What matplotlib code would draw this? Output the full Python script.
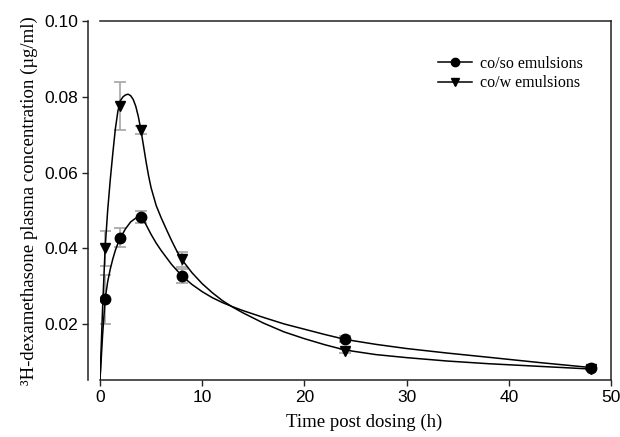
import matplotlib
matplotlib.use("Agg")
import matplotlib.pyplot as plt

# Measured points
time_pts = [0.5, 2, 4, 8, 24, 48]
coso_vals = [0.0266, 0.0428, 0.0483, 0.0328, 0.0160, 0.0085]
coso_err = [0.0065, 0.0025, 0.0016, 0.0019, 0.0008, 0.0004]
cow_vals = [0.0400, 0.0776, 0.0713, 0.0371, 0.0130, 0.0082]
cow_err = [0.0046, 0.0064, 0.0010, 0.0020, 0.0005, 0.0003]

# Fitted curves
cow_curve_t = [0, 0.25, 0.5, 0.75, 1.0, 1.25, 1.5, 1.75, 2.0, 2.25, 2.5, 2.75, 3.0,
               3.25, 3.5, 3.75, 4.0, 4.25, 4.5, 4.75, 5.0, 5.5, 6.0, 6.5, 7.0, 7.5,
               8.0, 9, 10, 11, 12, 13, 14, 16, 18, 20, 22, 24, 27, 30, 34, 38, 43, 48]
cow_curve_c = [0.0053, 0.024, 0.040, 0.050, 0.058, 0.065, 0.0715, 0.0762, 0.0790,
               0.0800, 0.0805, 0.0807, 0.0803, 0.0793, 0.0775, 0.0748, 0.0713,
               0.0672, 0.0630, 0.0592, 0.0560, 0.0513, 0.0480, 0.0450, 0.0421,
               0.0394, 0.0371, 0.0336, 0.0307, 0.0283, 0.0262, 0.0245, 0.0230,
               0.0203, 0.0180, 0.0162, 0.0146, 0.0132, 0.0120, 0.0112, 0.0103,
               0.0096, 0.0089, 0.0082]
coso_curve_t = [0, 0.25, 0.5, 0.75, 1.0, 1.25, 1.5, 1.75, 2.0, 2.5, 3.0, 3.5, 3.75,
                4.0, 4.25, 4.5, 5.0, 5.5, 6.0, 7.0, 8.0, 9, 10, 11, 12, 13, 14, 16,
                18, 20, 22, 24, 27, 30, 34, 38, 43, 48]
coso_curve_c = [0.0053, 0.017, 0.0266, 0.0312, 0.0345, 0.0372, 0.0395, 0.0413,
                0.0428, 0.0452, 0.0470, 0.0480, 0.0483, 0.0482, 0.0475, 0.0463,
                0.0437, 0.0414, 0.0394, 0.0358, 0.0328, 0.0305, 0.0286, 0.0270,
                0.0257, 0.0246, 0.0236, 0.0218, 0.0201, 0.0187, 0.0173, 0.0160,
                0.0147, 0.0136, 0.0124, 0.0113, 0.0099, 0.0086]

x_ticks = [0, 10, 20, 30, 40, 50]
y_ticks = [0.02, 0.04, 0.06, 0.08, 0.10]
y_tick_labels = ["0.02", "0.04", "0.06", "0.08", "0.10"]

fig = plt.figure(figsize=(6.2, 4.37), dpi=100)
ax = fig.add_axes([100/620, 1-380/437, 511/620, 359/437])

sans = ["Liberation Sans", "DejaVu Sans"]
serif = ["Liberation Serif", "DejaVu Serif"]
errc = "#ababab"

ax.plot(coso_curve_t, coso_curve_c, color="black", lw=1.1, zorder=3)
ax.plot(cow_curve_t, cow_curve_c, color="black", lw=1.1, zorder=3)

ax.errorbar(time_pts, coso_vals, yerr=coso_err, fmt="none", ecolor=errc,
            elinewidth=1.3, capsize=4, capthick=1.3, zorder=2)
ax.errorbar(time_pts, cow_vals, yerr=cow_err, fmt="none", ecolor=errc,
            elinewidth=1.3, capsize=4, capthick=1.3, zorder=2)

ax.plot(time_pts, coso_vals, "o", color="black", ms=7.5, zorder=4)
ax.plot(time_pts, cow_vals, "v", color="black", ms=7.5, zorder=4)

# legend handles
h1, = ax.plot([], [], "-o", color="black", lw=1.1, ms=6)
h2, = ax.plot([], [], "-v", color="black", lw=1.1, ms=6)
leg = ax.legend([h1, h2], ["co/so emulsions", "co/w emulsions"], frameon=False,
                loc="upper left", bbox_to_anchor=(438/620, 1-56/437),
                bbox_transform=fig.transFigure,
                prop={"family": serif, "size": 11.5}, handlelength=2.1,
                handletextpad=0.5, labelspacing=0.2, borderpad=0, borderaxespad=0)

ax.set_xlim(0, 50)
ax.set_ylim(0.0053, 0.10)
ax.set_xticks(x_ticks)
ax.set_yticks(y_ticks)
ax.set_yticklabels(y_tick_labels)

for s in ax.spines.values():
    s.set_linewidth(1.1)
    s.set_color("#222222")
ax.spines["left"].set_position(("outward", 8.6))

ax.tick_params(axis="both", direction="out", length=4, width=1.0, color="#222222",
               labelsize=12.5, pad=3)
for lab in ax.get_xticklabels() + ax.get_yticklabels():
    lab.set_family(sans)

ax.set_xlabel("Time post dosing (h)", family=serif, fontsize=13.5, labelpad=4)
ax.xaxis.set_label_coords(0.517, -0.095)
ax.set_ylabel("³H-dexamethasone plasma concentration (µg/ml)", family=serif,
              fontsize=13.5, labelpad=5)

fig.savefig("out.png", dpi=100)
